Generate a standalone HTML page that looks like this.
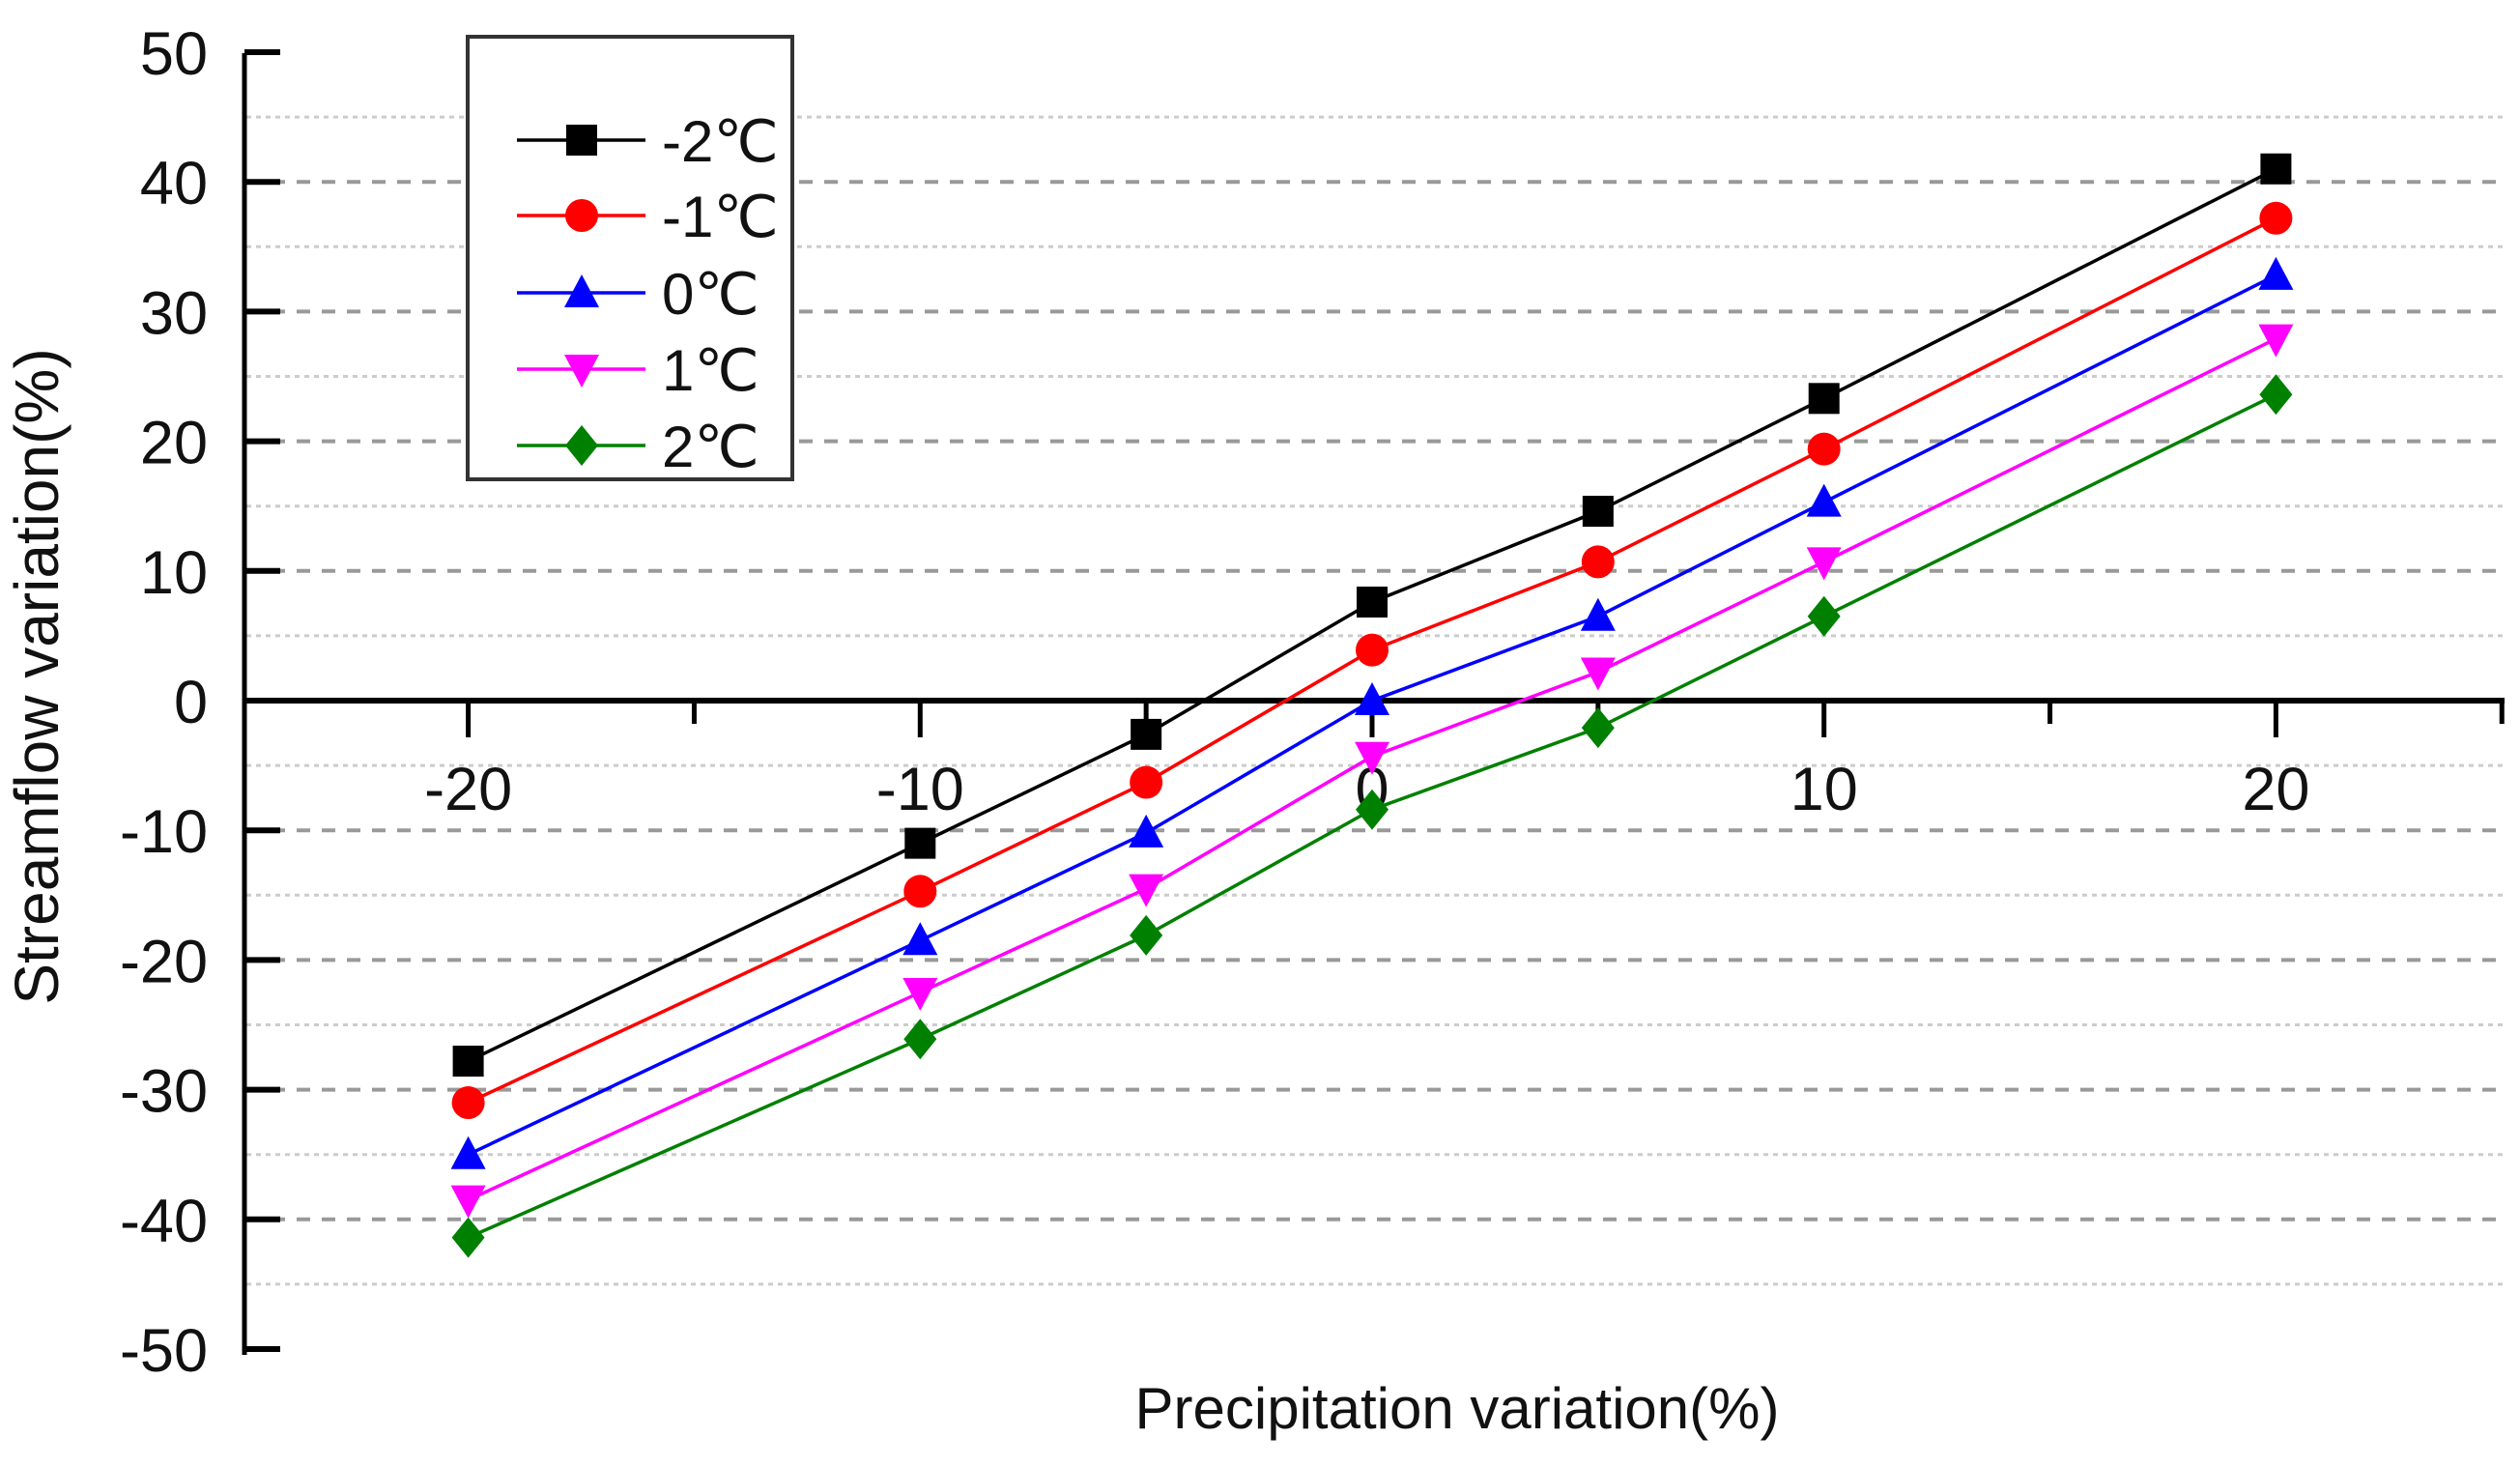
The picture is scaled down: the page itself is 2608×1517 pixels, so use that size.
<!DOCTYPE html>
<html><head><meta charset="utf-8"><style>
html,body{margin:0;padding:0;background:#fff;}
svg{display:block;font-family:"Liberation Sans",Arial,sans-serif;}
</style></head><body>
<svg id="chart" width="2608" height="1517" viewBox="0 0 2608 1517"></svg>
<script>
const xValues=[-20,-10,-5,0,5,10,20];
const seriesNames=["-2℃","-1℃","0℃","1℃","2℃"];
const seriesM2=[-27.8,-11,-2.6,7.6,14.6,23.3,41];
const seriesM1=[-31,-14.7,-6.3,3.9,10.7,19.4,37.2];
const series0=[-35,-18.5,-10.2,0,6.5,15.3,32.8];
const seriesP1=[-38.5,-22.5,-14.5,-4.3,2.2,10.7,27.9];
const seriesP2=[-41.4,-26.1,-18.1,-8.4,-2.1,6.5,23.6];
const yTicks=[50,40,30,20,10,0,-10,-20,-30,-40,-50];
const xTicks=[-20,-10,0,10,20];
const colors=["#000000","#ff0000","#0000ff","#ff00ff","#008000"];
const markers=["square","circle","triangle","invtriangle","diamond"];
const allSeries=[seriesM2,seriesM1,series0,seriesP1,seriesP2];
const NS="http://www.w3.org/2000/svg";
const svg=document.getElementById('chart');
const X=v=>1420+v*46.77;
const Y=v=>725-v*13.42;
function el(t,a,p){const e=document.createElementNS(NS,t);for(const k in a)e.setAttribute(k,a[k]);(p||svg).appendChild(e);return e;}
for(let v=-45;v<=45;v+=5){
  if(v===0)continue;
  const major=v%10===0;
  const g=el('line',{x1:255,x2:2590,y1:Y(v),y2:Y(v),stroke:major?'#999':'#ccc','stroke-width':major?4:3,'stroke-dasharray':major?'14,12':'5,5'});
  
  
}
const ya=el('line',{x1:253,x2:253,y1:55,y2:1402,stroke:'#000','stroke-width':5});

yTicks.forEach(v=>{
  const t=el('line',{x1:253,x2:290,y1:Y(v),y2:Y(v),stroke:'#000','stroke-width':6});
  
  const tx=el('text',{x:215,y:Y(v)+23,'text-anchor':'end','font-size':63,fill:'#111'});
  tx.textContent=v;
  
});
const xa=el('line',{x1:253,x2:2592,y1:Y(0),y2:Y(0),stroke:'#000','stroke-width':6});

for(let v=-20;v<=25;v+=5){
  const major=v%10===0;
  const t=el('line',{x1:X(v),x2:X(v),y1:Y(0),y2:Y(0)+(major?38:24),stroke:'#000','stroke-width':5});
  
}
xTicks.forEach(v=>{
  const tx=el('text',{x:X(v),y:838,'text-anchor':'middle','font-size':63,fill:'#111'});
  tx.textContent=v;
  
});
const yt=el('text',{x:0,y:0,transform:'translate(60,700) rotate(-90)','text-anchor':'middle','font-size':64,fill:'#111'});
yt.textContent='Streamflow variation(%)';

const xt=el('text',{x:1508,y:1478,'text-anchor':'middle','font-size':60,fill:'#111'});
xt.textContent='Precipitation variation(%)';

function marker(type,cx,cy,color,parent){
  const s=16;let m;
  if(type==='square')m=el('rect',{x:cx-s,y:cy-s,width:2*s,height:2*s,fill:color},parent);
  else if(type==='circle')m=el('circle',{cx:cx,cy:cy,r:s+1,fill:color},parent);
  else if(type==='triangle')m=el('polygon',{points:`${cx},${cy-s-3} ${cx-s-2},${cy+s-1} ${cx+s+2},${cy+s-1}`,fill:color},parent);
  else if(type==='invtriangle')m=el('polygon',{points:`${cx},${cy+s+3} ${cx-s-2},${cy-s+1} ${cx+s+2},${cy-s+1}`,fill:color},parent);
  else m=el('polygon',{points:`${cx},${cy-s-5} ${cx+s+1},${cy} ${cx},${cy+s+5} ${cx-s-1},${cy}`,fill:color},parent);
  return m;
}
allSeries.forEach((ser,i)=>{
  const g=el('g',{});
  
  
  const pts=ser.map((v,j)=>X(xValues[j])+','+Y(v)).join(' ');
  const pl=el('polyline',{points:pts,fill:'none',stroke:colors[i],'stroke-width':3.5},g);
  
  ser.forEach((v,j)=>{
    const m=marker(markers[i],X(xValues[j]),Y(v),colors[i],g);
    
    
  });
});
const lg=el('g',{});

el('rect',{x:484,y:38,width:336,height:458,fill:'#fff',stroke:'#333','stroke-width':4},lg);
const ly=[145,223,303,382,461];
seriesNames.forEach((n,i)=>{
  const e=el('g',{},lg);
  
  
  el('line',{x1:535,x2:668,y1:ly[i],y2:ly[i],stroke:colors[i],'stroke-width':3.5},e);
  marker(markers[i],602,ly[i],colors[i],e);
  const t=el('text',{x:685,y:ly[i]+22,'font-size':60,fill:'#111'},e);
  t.textContent=n;
});
</script>
</body></html>
